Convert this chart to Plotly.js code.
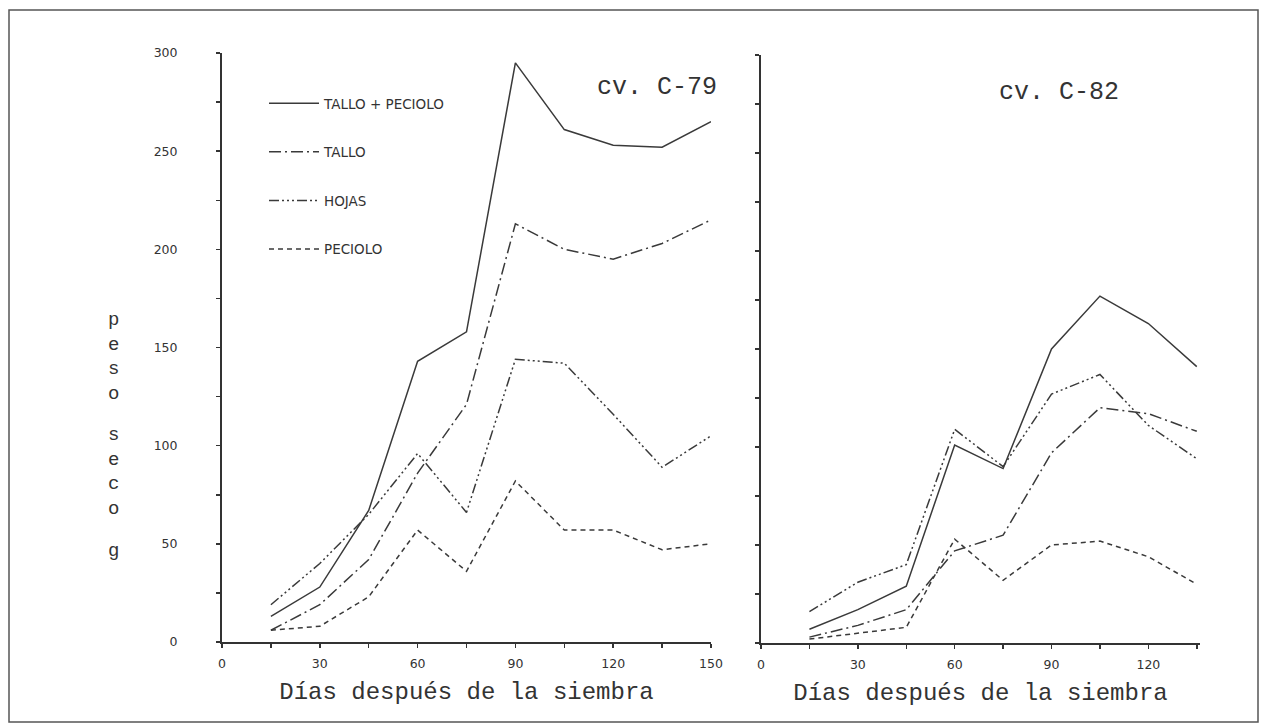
<!DOCTYPE html>
<html>
<head>
<meta charset="utf-8">
<script src="https://cdn.plot.ly/plotly-3.0.1.min.js"></script>
<style>html,body{margin:0;padding:0;background:#fff;}#chart{width:1267px;height:723px;}</style>
</head>
<body>
<div id="chart"></div>
<script>
// Days after sowing
const daysC79 = [15, 30, 45, 60, 75, 90, 105, 120, 135, 150];
const daysC82 = [15, 30, 45, 60, 75, 90, 105, 120, 135];

// cv. C-79 (peso seco, g)
const c79TalloPeciolo = [13, 28, 67, 143, 158, 295, 261, 253, 252, 265];
const c79Tallo        = [6, 19, 42, 86, 121, 213, 200, 195, 203, 215];
const c79Hojas        = [19, 40, 65, 96, 66, 144, 142, 116, 89, 105];
const c79Peciolo      = [6, 8, 23, 57, 36, 82, 57, 57, 47, 50];

// cv. C-82 (peso seco, g)
const c82TalloPeciolo = [7, 17, 29, 101, 89, 150, 177, 163, 141];
const c82Tallo        = [3, 9, 17, 47, 55, 97, 120, 117, 108];
const c82Hojas        = [16, 31, 40, 109, 90, 127, 137, 111, 94];
const c82Peciolo      = [2, 5, 8, 53, 32, 50, 52, 44, 30];

const seriesNames = ['TALLO + PECIOLO', 'TALLO', 'HOJAS', 'PECIOLO'];
const dashes = ['solid', '12px,4px,2px,4px', '10px,3px,2px,3px,2px,3px,2px,3px', '5px,4px'];
const lineColor = '#3a3a3a';

const c79 = [c79TalloPeciolo, c79Tallo, c79Hojas, c79Peciolo];
const c82 = [c82TalloPeciolo, c82Tallo, c82Hojas, c82Peciolo];

const traces = [];
c79.forEach((ys, i) => traces.push({
  x: daysC79, y: ys, type: 'scatter', mode: 'lines', name: seriesNames[i],
  legendgroup: 'g' + i, xaxis: 'x', yaxis: 'y',
  line: {color: lineColor, width: 1.5, dash: dashes[i]}
}));
c82.forEach((ys, i) => traces.push({
  x: daysC82, y: ys, type: 'scatter', mode: 'lines', name: seriesNames[i],
  legendgroup: 'g' + i, showlegend: false, xaxis: 'x2', yaxis: 'y2',
  line: {color: lineColor, width: 1.5, dash: dashes[i]}
}));

const W = 1267, H = 723;
const tickFont = {family: 'DejaVu Sans, sans-serif', size: 12.5, color: '#333'};
const monoFont = {family: 'Liberation Mono, DejaVu Sans Mono, monospace', size: 19, color: '#333'};
const titleFont = {family: 'Liberation Mono, DejaVu Sans Mono, monospace', size: 24, color: '#333'};
const cvFont = {family: 'Liberation Mono, DejaVu Sans Mono, monospace', size: 25, color: '#333'};

const axisCommon = {
  showgrid: false, zeroline: false, showline: true, linecolor: '#333', linewidth: 2,
  ticks: 'outside', ticklen: 4, tickcolor: '#333', tickwidth: 1.5, tickfont: tickFont
};

function note(x, y, text, font) {
  return {xref: 'paper', yref: 'paper', x: x / W, y: 1 - y / H, xanchor: 'center', yanchor: 'middle',
          text: text, showarrow: false, font: font};
}

const layout = {
  width: W, height: H,
  margin: {l: 0, r: 0, t: 0, b: 0},
  paper_bgcolor: '#fff', plot_bgcolor: '#fff',
  showlegend: true,
  legend: {
    x: 264 / W, y: 1 - 88 / H, xanchor: 'left', yanchor: 'top',
    bgcolor: 'rgba(0,0,0,0)', tracegroupgap: 28, itemwidth: 50,
    font: {family: 'DejaVu Sans, sans-serif', size: 13.5, color: '#333'}
  },
  xaxis: Object.assign({}, axisCommon, {
    domain: [222 / W, 711 / W], range: [0, 150], anchor: 'y',
    tickvals: [0, 30, 60, 90, 120, 150],
    minor: {dtick: 15, ticklen: 4, tickcolor: '#333', ticks: 'outside'},
    ticklabelstandoff: 5,
    title: {text: 'Días después de la siembra', font: titleFont, standoff: 12}
  }),
  yaxis: Object.assign({}, axisCommon, {
    domain: [1 - 642 / H, 1 - 53 / H], range: [0, 300], anchor: 'x',
    tickvals: [0, 50, 100, 150, 200, 250, 300],
    minor: {dtick: 25, ticklen: 4, tickcolor: '#333', ticks: 'outside'},
    ticklabelstandoff: 36
  }),
  xaxis2: Object.assign({}, axisCommon, {
    domain: [761 / W, 1200 / W], range: [0, 136], anchor: 'y2',
    tickvals: [0, 30, 60, 90, 120],
    minor: {dtick: 15, ticklen: 4, tickcolor: '#333', ticks: 'outside'},
    ticklabelstandoff: 5,
    title: {text: 'Días después de la siembra', font: titleFont, standoff: 12}
  }),
  yaxis2: Object.assign({}, axisCommon, {
    domain: [1 - 643 / H, 1 - 55 / H], range: [0, 300], anchor: 'x2',
    dtick: 25, showticklabels: false
  }),
  annotations: [
    note(657, 87, 'cv. C-79', cvFont),
    note(1059, 93, 'cv. C-82', cvFont),
    note(113, 357, 'p<br>e<br>s<br>o', monoFont),
    note(113, 472, 's<br>e<br>c<br>o', monoFont),
    note(113, 551, 'g', monoFont)
  ],
  shapes: [
    {type: 'rect', xref: 'paper', yref: 'paper', x0: 9 / W, x1: 1258 / W, y0: 1 - 722 / H, y1: 1 - 10 / H,
     line: {color: '#555', width: 1.5}}
  ]
};

Plotly.newPlot('chart', traces, layout, {displayModeBar: false, staticPlot: true});
</script>
</body>
</html>
